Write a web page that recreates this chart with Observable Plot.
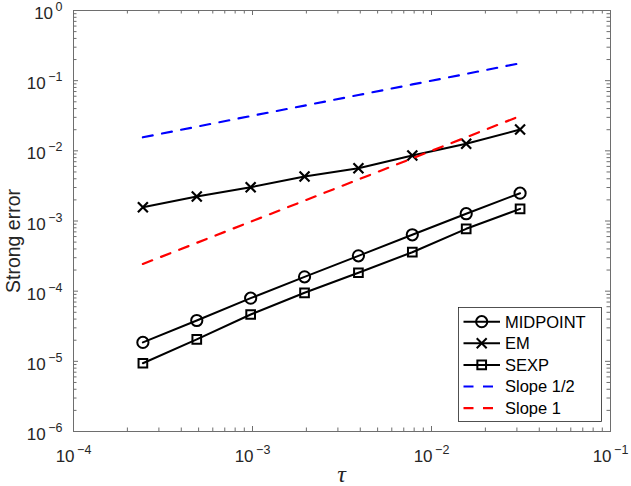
<!DOCTYPE html>
<html><head><meta charset="utf-8">
<script src="https://cdn.jsdelivr.net/npm/d3@7"></script>
<script src="https://cdn.jsdelivr.net/npm/@observablehq/plot@0.6"></script>
<style>body{margin:0;background:#fff} svg{display:block;overflow:visible}</style>
</head><body><div id="chart"></div>
<script>
// ---- data ----
const tau = [0.000244140625, 0.00048828125, 0.0009765625, 0.001953125, 0.00390625, 0.0078125, 0.015625, 0.03125];
const midpoint = [1.86e-5, 3.82e-5, 7.94e-5, 1.60e-4, 3.19e-4, 6.36e-4, 1.27e-3, 2.49e-3];
const em = [1.57e-3, 2.24e-3, 3.03e-3, 4.31e-3, 5.66e-3, 8.58e-3, 1.26e-2, 2.01e-2];
const sexp = [9.4e-6, 2.05e-5, 4.65e-5, 9.48e-5, 1.83e-4, 3.59e-4, 7.74e-4, 1.49e-3];
const slopeHalf = [0.0156, 0.0221, 0.0313, 0.0442, 0.0625, 0.0884, 0.125, 0.177];
const slopeOne = [2.44e-4, 4.88e-4, 9.77e-4, 1.95e-3, 3.91e-3, 7.81e-3, 1.56e-2, 3.13e-2];
const seriesNames = ["MIDPOINT", "EM", "SEXP", "Slope 1/2", "Slope 1"];
const xTicks = [1e-4, 1e-3, 1e-2, 1e-1];
const xTickExp = ["-4", "-3", "-2", "-1"];
const yTicks = [1e-6, 1e-5, 1e-4, 1e-3, 1e-2, 1e-1, 1];
const yTickExp = ["-6", "-5", "-4", "-3", "-2", "-1", "0"];
const minorMult = [2, 3, 4, 5, 6, 7, 8, 9];

// ---- layout ----
const W = 631, H = 486, mL = 73, mR = 21, mT = 10, mB = 55;
const fw = W - mL - mR, fh = H - mT - mB;
const axisColor = "#6e6e6e", textColor = "#262626";
const FONT = "'Liberation Sans', Arial, Helvetica, sans-serif";

const rows = (vals) => tau.map((t, i) => ({tau: t, err: vals[i]}));
const xMinor = xTicks.slice(0, -1).flatMap(d => minorMult.map(m => d * m));
const yMinor = yTicks.slice(0, -1).flatMap(d => minorMult.map(m => d * m));
const xLab = xTicks.map((v, i) => ({v, e: xTickExp[i]}));
const yLab = yTicks.map((v, i) => ({v, e: yTickExp[i]}));

const blackLine = {x: "tau", y: "err", stroke: "black", strokeWidth: 2};
const dash = "10,9.5";
const mk = {circle: 5.6, times: 4.6, square: 4.9};

const plot = Plot.plot({
  width: W, height: H,
  marginLeft: mL, marginRight: mR, marginTop: mT, marginBottom: mB,
  x: {type: "log", domain: [1e-4, 1e-1], axis: null},
  y: {type: "log", domain: [1e-6, 1], axis: null},
  style: {fontFamily: FONT, background: "white"},
  marks: [
    Plot.frame({stroke: axisColor, strokeWidth: 1}),
    // inward ticks, bottom/top
    Plot.ruleX(xTicks, {stroke: axisColor, insetTop: fh - 5}),
    Plot.ruleX(xTicks, {stroke: axisColor, insetBottom: fh - 5}),
    Plot.ruleX(xMinor, {stroke: axisColor, insetTop: fh - 3.5}),
    Plot.ruleX(xMinor, {stroke: axisColor, insetBottom: fh - 3.5}),
    // inward ticks, left/right
    Plot.ruleY(yTicks, {stroke: axisColor, insetRight: fw - 5}),
    Plot.ruleY(yTicks, {stroke: axisColor, insetLeft: fw - 5}),
    Plot.ruleY(yMinor, {stroke: axisColor, insetRight: fw - 3.5}),
    Plot.ruleY(yMinor, {stroke: axisColor, insetLeft: fw - 3.5}),
    // data lines
    Plot.line(rows(midpoint), blackLine),
    Plot.dot(rows(midpoint), {x: "tau", y: "err", symbol: "circle", r: mk.circle, stroke: "black", strokeWidth: 2, fill: "none"}),
    Plot.line(rows(em), blackLine),
    Plot.dot(rows(em), {x: "tau", y: "err", symbol: "times", r: mk.times, stroke: "black", strokeWidth: 2.2, fill: "none"}),
    Plot.line(rows(sexp), blackLine),
    Plot.dot(rows(sexp), {x: "tau", y: "err", symbol: "square", r: mk.square, stroke: "black", strokeWidth: 2, fill: "none"}),
    Plot.line(rows(slopeHalf), {x: "tau", y: "err", stroke: "#0000ff", strokeWidth: 2.2, strokeDasharray: dash}),
    Plot.line(rows(slopeOne), {x: "tau", y: "err", stroke: "#ff0000", strokeWidth: 2.2, strokeDasharray: dash}),
    // tick labels
    Plot.text(xLab, {x: "v", text: d => d.e, frameAnchor: "bottom", dy: 30, lineAnchor: "bottom",
      textAnchor: "middle", fontSize: 17, fill: textColor, ariaDescription: "xticklabel"}),
    Plot.text(yLab, {y: "v", text: d => d.e, frameAnchor: "left", dx: -11, dy: 8.5, lineAnchor: "bottom",
      textAnchor: "end", fontSize: 17, fill: textColor, ariaDescription: "yticklabel"})
  ]
});

const svg = d3.select(plot);
// superscript tick labels: 10^{exp}
svg.selectAll("g[aria-description=xticklabel] text, g[aria-description=yticklabel] text").each(function () {
  const e = this.textContent.replace("-", "\u2212");
  const t = d3.select(this);
  t.text(null);
  t.append("tspan").text("10");
  t.append("tspan").attr("dx", 2.5).attr("dy", -8).attr("font-size", 12.5).text(e);
});

// axis titles
svg.append("text").attr("transform", `translate(20,241) rotate(-90)`)
  .attr("text-anchor", "middle").attr("font-family", FONT).attr("font-size", 19.5)
  .attr("fill", textColor).text("Strong error");
svg.append("text").attr("x", mL + fw / 2).attr("y", 482)
  .attr("text-anchor", "middle").attr("font-family", "'Liberation Serif', 'Times New Roman', serif")
  .attr("font-style", "italic").attr("font-size", 24).attr("fill", textColor).text("\u03c4");

// legend
const lg = svg.append("g").attr("font-family", FONT).attr("text-anchor", "start");
const lx = 458.5, ly = 307.5, lw = 143, lh = 114;
lg.append("rect").attr("x", lx).attr("y", ly).attr("width", lw).attr("height", lh)
  .attr("fill", "white").attr("stroke", textColor).attr("stroke-width", 0.8);
const entryY = [321.7, 343.3, 364.9, 386.5, 408.1];
const entryStyle = [
  {c: "black", d: null, sym: d3.symbolCircle, r: mk.circle},
  {c: "black", d: null, sym: d3.symbolTimes, r: mk.times},
  {c: "black", d: null, sym: d3.symbolSquare, r: mk.square},
  {c: "#0000ff", d: dash, sym: null},
  {c: "#ff0000", d: dash, sym: null}
];
seriesNames.forEach((name, i) => {
  const y = entryY[i], s = entryStyle[i];
  lg.append("line").attr("x1", 463.5).attr("x2", 500).attr("y1", y).attr("y2", y)
    .attr("stroke", s.c).attr("stroke-width", s.d ? 2.2 : 2).attr("stroke-dasharray", s.d);
  if (s.sym) {
    lg.append("path").attr("transform", `translate(481.7,${y})`)
      .attr("d", d3.symbol(s.sym, Math.PI * s.r * s.r)())
      .attr("fill", "none").attr("stroke", s.c).attr("stroke-width", 2);
  }
  lg.append("text").attr("x", 505).attr("y", y).attr("dy", "0.36em").attr("text-anchor", "start")
    .attr("font-size", 16.5).attr("fill", "black").text(name);
});

document.getElementById("chart").appendChild(plot);
</script>
</body></html>
